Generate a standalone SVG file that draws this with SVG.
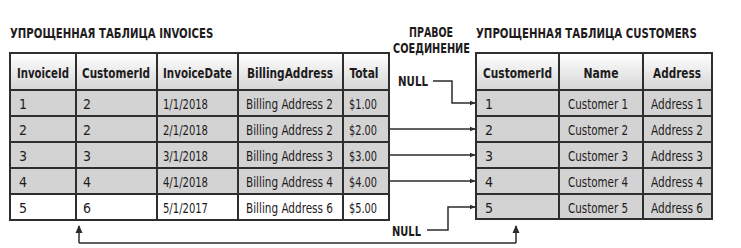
<svg xmlns="http://www.w3.org/2000/svg" width="741" height="248" viewBox="0 0 741 248">
  <defs>
    <linearGradient id="hdr" x1="0" y1="0" x2="0" y2="1">
      <stop offset="0" stop-color="#ffffff"/>
      <stop offset="1" stop-color="#d6d6d6"/>
    </linearGradient>
    <marker id="ah" viewBox="0 0 6 6" refX="5.5" refY="3" markerWidth="6" markerHeight="6" markerUnits="userSpaceOnUse" orient="auto">
      <path d="M0,0.5 L6,3 L0,5.5 Z" fill="#2b2b2b"/>
    </marker>
    <marker id="ahUp" viewBox="0 0 8 8" refX="7" refY="4" markerWidth="8" markerHeight="8" markerUnits="userSpaceOnUse" orient="auto">
      <path d="M0,0.5 L8,4 L0,7.5 Z" fill="#2b2b2b"/>
    </marker>
  </defs>
  <style>
    text { font-family: "Liberation Sans Narrow", "DejaVu Sans Condensed", "Liberation Sans", sans-serif; fill: #1e1b1c; }
    .title { font-size: 14.5px; font-weight: bold; }
    .th { font-size: 14px; font-weight: bold; text-anchor: middle; }
    .td { font-size: 14px; }
    .lbl { font-size: 14px; font-weight: bold; }
    .hdr { fill: url(#hdr); }
    .row { fill: #d3d3d3; }
    .rowW { fill: #ffffff; }
    .grid { fill: none; stroke: #2e2e2e; stroke-width: 2; }
    .conn { fill: none; stroke: #2b2b2b; stroke-width: 1.5; }
  </style>

  <rect width="741" height="248" fill="#ffffff"/>

  <!-- Titles (condensed horizontally) -->
  <text class="title" transform="translate(10,38) scale(0.8,1)" x="0" y="0" textLength="254" lengthAdjust="spacingAndGlyphs">УПРОЩЕННАЯ ТАБЛИЦА INVOICES</text>
  <text class="title" transform="translate(476,38) scale(0.8,1)" x="0" y="0" textLength="276" lengthAdjust="spacingAndGlyphs">УПРОЩЕННАЯ ТАБЛИЦА CUSTOMERS</text>
  <text class="lbl" x="409" y="37" textLength="44" lengthAdjust="spacingAndGlyphs">ПРАВОЕ</text>
  <text class="lbl" x="393" y="53" textLength="77" lengthAdjust="spacingAndGlyphs">СОЕДИНЕНИЕ</text>

  <!-- Invoices table -->
  <g id="invoices">
    <rect class="hdr" x="10" y="53" width="379" height="37"/>
    <rect class="row" x="10" y="90" width="379" height="26"/>
    <rect class="row" x="10" y="116" width="379" height="26"/>
    <rect class="row" x="10" y="142" width="379" height="26"/>
    <rect class="row" x="10" y="168" width="379" height="26"/>
    <rect class="rowW" x="10" y="194" width="379" height="26"/>
    <path class="grid" d="M10,53 H389 V220 H10 Z M10,90 H389 M10,116 H389 M10,142 H389 M10,168 H389 M10,194 H389 M76,53 V220 M157,53 V220 M238,53 V220 M343,53 V220"/>
    <text class="th" x="43" y="78" textLength="52" lengthAdjust="spacingAndGlyphs">InvoiceId</text>
    <text class="th" x="116" y="78" textLength="68" lengthAdjust="spacingAndGlyphs">CustomerId</text>
    <text class="th" x="197.5" y="78" textLength="69" lengthAdjust="spacingAndGlyphs">InvoiceDate</text>
    <text class="th" x="290" y="78" textLength="86" lengthAdjust="spacingAndGlyphs">BillingAddress</text>
    <text class="th" x="364" y="78" textLength="29" lengthAdjust="spacingAndGlyphs">Total</text>

    <text class="td" x="19" y="109">1</text>
    <text class="td" x="83" y="109">2</text>
    <text class="td" x="163" y="109" textLength="45" lengthAdjust="spacingAndGlyphs">1/1/2018</text>
    <text class="td" x="246" y="109" textLength="87" lengthAdjust="spacingAndGlyphs">Billing Address 2</text>
    <text class="td" x="349" y="109" textLength="28" lengthAdjust="spacingAndGlyphs">$1.00</text>

    <text class="td" x="19" y="135">2</text>
    <text class="td" x="83" y="135">2</text>
    <text class="td" x="163" y="135" textLength="45" lengthAdjust="spacingAndGlyphs">2/1/2018</text>
    <text class="td" x="246" y="135" textLength="87" lengthAdjust="spacingAndGlyphs">Billing Address 2</text>
    <text class="td" x="349" y="135" textLength="28" lengthAdjust="spacingAndGlyphs">$2.00</text>

    <text class="td" x="19" y="161">3</text>
    <text class="td" x="83" y="161">3</text>
    <text class="td" x="163" y="161" textLength="45" lengthAdjust="spacingAndGlyphs">3/1/2018</text>
    <text class="td" x="246" y="161" textLength="87" lengthAdjust="spacingAndGlyphs">Billing Address 3</text>
    <text class="td" x="349" y="161" textLength="28" lengthAdjust="spacingAndGlyphs">$3.00</text>

    <text class="td" x="19" y="187">4</text>
    <text class="td" x="83" y="187">4</text>
    <text class="td" x="163" y="187" textLength="45" lengthAdjust="spacingAndGlyphs">4/1/2018</text>
    <text class="td" x="246" y="187" textLength="87" lengthAdjust="spacingAndGlyphs">Billing Address 4</text>
    <text class="td" x="349" y="187" textLength="28" lengthAdjust="spacingAndGlyphs">$4.00</text>

    <text class="td" x="19" y="213">5</text>
    <text class="td" x="83" y="213">6</text>
    <text class="td" x="163" y="213" textLength="45" lengthAdjust="spacingAndGlyphs">5/1/2017</text>
    <text class="td" x="246" y="213" textLength="87" lengthAdjust="spacingAndGlyphs">Billing Address 6</text>
    <text class="td" x="349" y="213" textLength="28" lengthAdjust="spacingAndGlyphs">$5.00</text>
  </g>

  <!-- Customers table -->
  <g id="customers">
    <rect class="hdr" x="476" y="53" width="236" height="37"/>
    <rect class="row" x="476" y="90" width="236" height="129"/>
    <path class="grid" d="M476,53 H712 V219 H476 Z M476,90 H712 M476,116 H712 M476,142 H712 M476,168 H712 M476,194 H712 M559,53 V219 M643,53 V219"/>
    <text class="th" x="517.5" y="78" textLength="69" lengthAdjust="spacingAndGlyphs">CustomerId</text>
    <text class="th" x="601" y="78" textLength="35" lengthAdjust="spacingAndGlyphs">Name</text>
    <text class="th" x="677" y="78" textLength="48" lengthAdjust="spacingAndGlyphs">Address</text>

    <text class="td" x="485" y="109">1</text>
    <text class="td" x="568" y="109" textLength="60" lengthAdjust="spacingAndGlyphs">Customer 1</text>
    <text class="td" x="651" y="109" textLength="52" lengthAdjust="spacingAndGlyphs">Address 1</text>

    <text class="td" x="485" y="135">2</text>
    <text class="td" x="568" y="135" textLength="60" lengthAdjust="spacingAndGlyphs">Customer 2</text>
    <text class="td" x="651" y="135" textLength="52" lengthAdjust="spacingAndGlyphs">Address 2</text>

    <text class="td" x="485" y="161">3</text>
    <text class="td" x="568" y="161" textLength="60" lengthAdjust="spacingAndGlyphs">Customer 3</text>
    <text class="td" x="651" y="161" textLength="52" lengthAdjust="spacingAndGlyphs">Address 3</text>

    <text class="td" x="485" y="187">4</text>
    <text class="td" x="568" y="187" textLength="60" lengthAdjust="spacingAndGlyphs">Customer 4</text>
    <text class="td" x="651" y="187" textLength="52" lengthAdjust="spacingAndGlyphs">Address 4</text>

    <text class="td" x="485" y="213">5</text>
    <text class="td" x="568" y="213" textLength="60" lengthAdjust="spacingAndGlyphs">Customer 5</text>
    <text class="td" x="651" y="213" textLength="52" lengthAdjust="spacingAndGlyphs">Address 6</text>
  </g>

  <!-- NULL labels -->
  <g id="null-top">
    <text class="lbl" x="398" y="86" textLength="30" lengthAdjust="spacingAndGlyphs">NULL</text>
  </g>
  <g id="null-bottom">
    <text class="lbl" x="392" y="236" textLength="29" lengthAdjust="spacingAndGlyphs">NULL</text>
  </g>

  <!-- Connectors -->
  <g id="connectors">
    <path class="conn" d="M433,81 H452 V103 H475" marker-end="url(#ah)"/>
    <path class="conn" d="M390,129 H475" marker-end="url(#ah)"/>
    <path class="conn" d="M390,155 H475" marker-end="url(#ah)"/>
    <path class="conn" d="M390,181 H475" marker-end="url(#ah)"/>
    <path class="conn" d="M427,230 H448 V207 H475" marker-end="url(#ah)"/>
    <path class="conn" d="M79,243 H516"/>
    <path class="conn" d="M516,243 V226" marker-end="url(#ahUp)"/>
    <path class="conn" d="M79,243 V226" marker-end="url(#ahUp)"/>
  </g>
</svg>
